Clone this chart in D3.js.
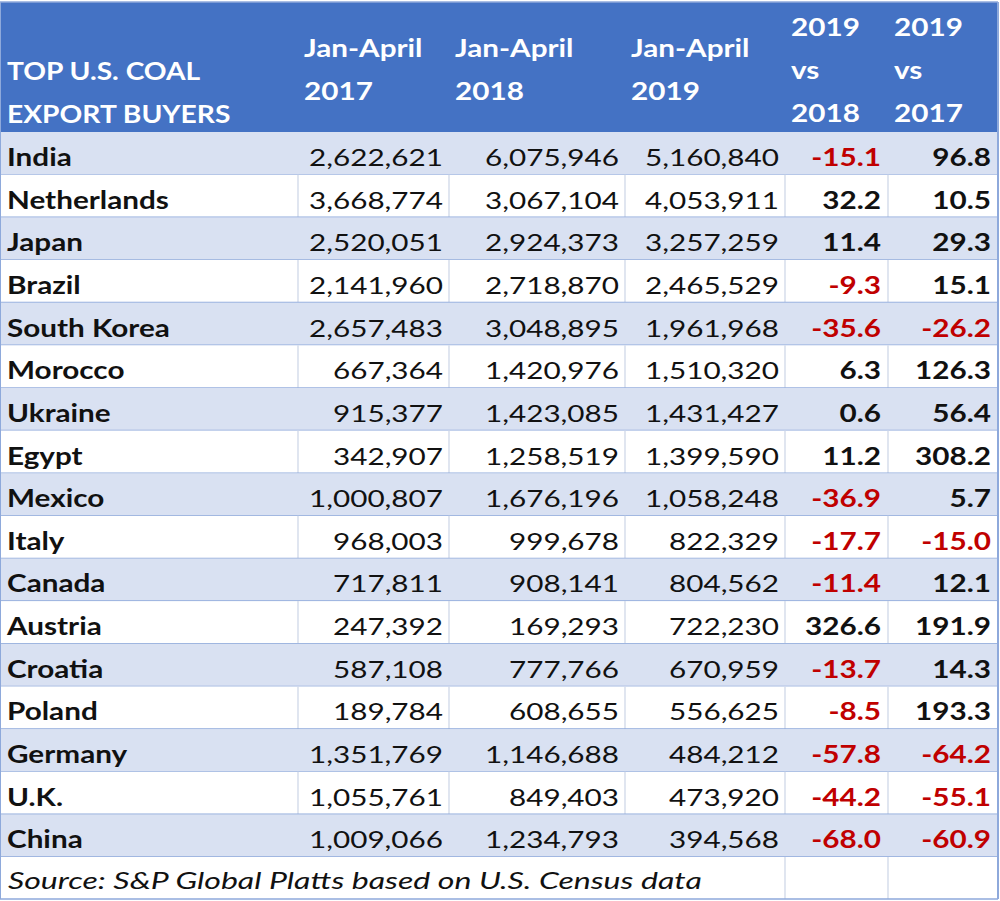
<!DOCTYPE html>
<html>
<head>
<meta charset="utf-8">
<title>Top U.S. coal export buyers</title>
<script src="https://d3js.org/d3.v7.min.js"></script>
<style>
  html, body { margin: 0; padding: 0; background: #fff; }
  svg { display: block; }
  text { font-family: Lato, "Open Sans", sans-serif; }
</style>
</head>
<body>
<div id="chart"></div>
<script>
// ---- data ----
const countries = ["India", "Netherlands", "Japan", "Brazil", "South Korea", "Morocco", "Ukraine",
  "Egypt", "Mexico", "Italy", "Canada", "Austria", "Croatia", "Poland", "Germany", "U.K.", "China"];
const jan2017 = [2622621, 3668774, 2520051, 2141960, 2657483, 667364, 915377, 342907, 1000807,
  968003, 717811, 247392, 587108, 189784, 1351769, 1055761, 1009066];
const jan2018 = [6075946, 3067104, 2924373, 2718870, 3048895, 1420976, 1423085, 1258519, 1676196,
  999678, 908141, 169293, 777766, 608655, 1146688, 849403, 1234793];
const jan2019 = [5160840, 4053911, 3257259, 2465529, 1961968, 1510320, 1431427, 1399590, 1058248,
  822329, 804562, 722230, 670959, 556625, 484212, 473920, 394568];
const vs2018 = [-15.1, 32.2, 11.4, -9.3, -35.6, 6.3, 0.6, 11.2, -36.9, -17.7, -11.4, 326.6, -13.7,
  -8.5, -57.8, -44.2, -68.0];
const vs2017 = [96.8, 10.5, 29.3, 15.1, -26.2, 126.3, 56.4, 308.2, 5.7, -15.0, 12.1, 191.9, 14.3,
  193.3, -64.2, -55.1, -60.9];
const headers = [
  ["TOP U.S. COAL", "EXPORT BUYERS"],
  ["Jan-April", "2017"],
  ["Jan-April", "2018"],
  ["Jan-April", "2019"],
  ["2019", "vs", "2018"],
  ["2019", "vs", "2017"]
];
const source = "Source: S&P Global Platts based on U.S. Census data";

// ---- layout ----
const W = 1000, H = 901;
const colEdges = [0, 298, 449, 625, 785, 888, 998];
const headTop = 2, headBottom = 132, bodyBottom = 857;
const fontSize = 24;

const loc = d3.formatLocale({decimal: ".", thousands: ",", grouping: [3], currency: ["$", ""], minus: "-"});
const fmtInt = loc.format(",");
const fmtPct = loc.format(".1f");

const colKeys = d3.range(6);
const xLeft = d3.scaleOrdinal().domain(colKeys).range(colEdges.slice(0, 6));
const xRight = d3.scaleOrdinal().domain(colKeys).range(colEdges.slice(1));
const y = d3.scaleBand().domain(countries).range([headBottom, bodyBottom]);
const rowH = y.bandwidth();

const svg = d3.select("#chart").append("svg")
  .attr("width", W).attr("height", H)
  .attr("viewBox", `0 0 ${W} ${H}`);

// horizontal stretch so the sans face matches the wide spreadsheet lettering
function measure(str, attrs) {
  const t = svg.append("text").attr("font-size", fontSize);
  Object.entries(attrs || {}).forEach(([a, v]) => t.attr(a, v));
  const w = t.text(str).node().getComputedTextLength();
  t.remove();
  return w;
}
const k = 134 / measure("2,622,621");
const kSrc = 694 / measure(source, {"font-style": "italic"});

function put(sel, x, yy, kk) {
  return sel.attr("x", 0).attr("y", 0).attr("transform", `translate(${x},${yy}) scale(${kk || k},1)`);
}

// header
svg.append("rect").attr("x", 0).attr("y", headTop).attr("width", colEdges[6]).attr("height", headBottom - headTop)
  .attr("fill", "#4472C4");

const headBase = [[80, 123], [57, 100], [57, 100], [57, 100], [36, 79, 122], [36, 79, 122]];
headers.forEach((lines, c) => {
  lines.forEach((t, j) => {
    put(svg.append("text"), xLeft(c) + (c === 0 ? 7 : 6), headBase[c][j], c === 0 ? k * 0.95 : k)
      .attr("font-size", fontSize).attr("font-weight", 700).attr("fill", "#fff").text(t);
  });
});

// body rows
const rows = svg.append("g").selectAll("g").data(countries).join("g")
  .attr("transform", d => `translate(0,${y(d)})`);

rows.append("rect")
  .attr("width", colEdges[6]).attr("height", rowH)
  .attr("fill", (d, i) => i % 2 === 0 ? "#D9E1F2" : "#fff");

// vertical grid lines on white rows
rows.filter((d, i) => i % 2 === 1).selectAll("line.v").data(colKeys.slice(1)).join("line")
  .attr("class", "v")
  .attr("x1", c => xLeft(c)).attr("x2", c => xLeft(c))
  .attr("y1", 0).attr("y2", rowH)
  .attr("stroke", "#D0D8E8").attr("stroke-width", 1.3);

// horizontal lines
rows.append("line").attr("x1", 0).attr("x2", colEdges[6]).attr("y1", rowH).attr("y2", rowH)
  .attr("stroke", "#8EA9DB").attr("stroke-width", 1.5);

const base = 34;
rows.each(function(d, i) {
  const g = d3.select(this);
  put(g.append("text"), 7, base).attr("font-size", fontSize).attr("font-weight", 700)
    .attr("fill", "#111").text(d);
  [jan2017[i], jan2018[i], jan2019[i]].forEach((v, j) => {
    put(g.append("text"), xRight(j + 1) - 6, base).attr("font-size", fontSize)
      .attr("text-anchor", "end").attr("fill", "#111").text(fmtInt(v));
  });
  [vs2018[i], vs2017[i]].forEach((v, j) => {
    put(g.append("text"), xRight(j + 4) - 7, base).attr("font-size", fontSize).attr("font-weight", 700)
      .attr("text-anchor", "end").attr("fill", v < 0 ? "#C00000" : "#111").text(fmtPct(v));
  });
});

// source row
const sy = bodyBottom;
svg.append("rect").attr("x", 0).attr("y", sy).attr("width", colEdges[6]).attr("height", H - 2 - sy).attr("fill", "#fff");
[4, 5].forEach(c => {
  svg.append("line").attr("x1", xLeft(c)).attr("x2", xLeft(c)).attr("y1", sy).attr("y2", H - 2)
    .attr("stroke", "#D0D8E8").attr("stroke-width", 1.3);
});
svg.append("line").attr("x1", 0).attr("x2", colEdges[6]).attr("y1", H - 2).attr("y2", H - 2)
  .attr("stroke", "#8EA9DB").attr("stroke-width", 1.5);
put(svg.append("text"), 8, sy + 32, kSrc).attr("font-size", fontSize).attr("font-style", "italic")
  .attr("fill", "#111").text(source);

// outer frame
svg.append("line").attr("x1", colEdges[6]).attr("x2", colEdges[6]).attr("y1", headTop).attr("y2", H - 2)
  .attr("stroke", "#8EA9DB").attr("stroke-width", 2);
svg.append("line").attr("x1", 0.5).attr("x2", 0.5).attr("y1", headTop).attr("y2", H - 2)
  .attr("stroke", "#8EA9DB").attr("stroke-width", 1);
svg.append("line").attr("x1", 0).attr("x2", colEdges[6]).attr("y1", headTop).attr("y2", headTop)
  .attr("stroke", "#8EA9DB").attr("stroke-width", 1.5);
</script>
</body>
</html>
